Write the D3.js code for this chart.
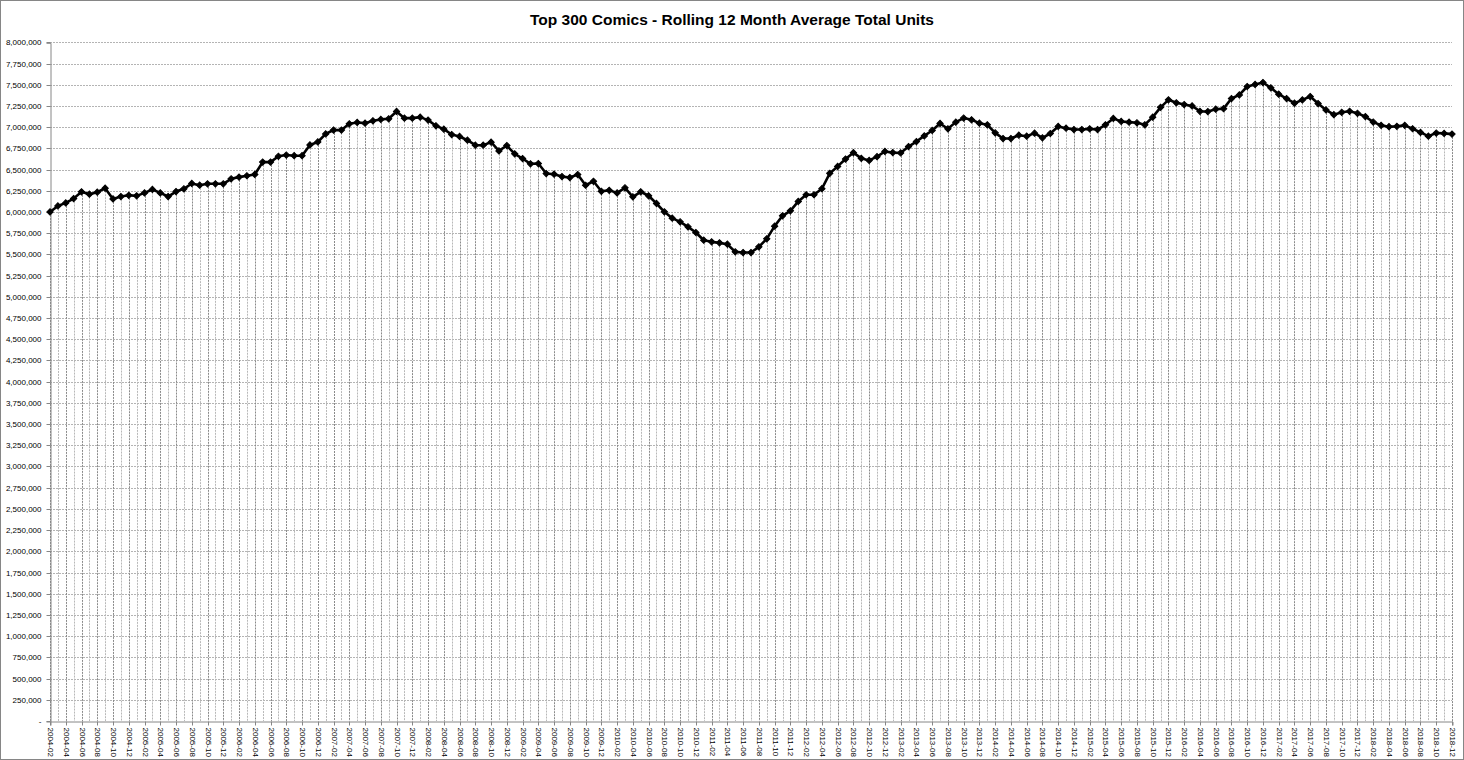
<!DOCTYPE html>
<html>
<head>
<meta charset="utf-8">
<script src="https://cdn.jsdelivr.net/npm/d3@7"></script>
<style>
  html, body { margin: 0; padding: 0; background: #fff; }
  svg { display: block; }
  text { font-family: "Liberation Sans", Arial, sans-serif; }
</style>
</head>
<body>
<svg id="chart" width="1464" height="760"></svg>
<script>
const chartTitle = "Top 300 Comics - Rolling 12 Month Average Total Units";
const firstMonth = "2004-02";
const lastMonth = "2018-12";
const yTickValues = d3.range(0, 8000001, 250000);

const units = [
  6000000, 6071000, 6107000, 6158000, 6237000, 6209000, 6233000, 6280000, 6154000, 6182000,
  6197000, 6190000, 6225000, 6265000, 6225000, 6182000, 6241000, 6273000, 6336000, 6316000,
  6332000, 6332000, 6332000, 6391000, 6411000, 6427000, 6442000, 6588000, 6588000, 6656000,
  6671000, 6663000, 6663000, 6790000, 6825000, 6920000, 6966000, 6965000, 7039000, 7055000,
  7047000, 7075000, 7091000, 7098000, 7185000, 7106000, 7106000, 7118000, 7083000, 7016000,
  6976000, 6913000, 6890000, 6846000, 6787000, 6787000, 6823000, 6720000, 6783000, 6685000,
  6630000, 6567000, 6571000, 6453000, 6445000, 6417000, 6406000, 6441000, 6315000, 6362000,
  6244000, 6255000, 6225000, 6285000, 6179000, 6238000, 6191000, 6100000, 6002000, 5927000,
  5884000, 5825000, 5758000, 5667000, 5648000, 5636000, 5620000, 5530000, 5522000, 5522000,
  5589000, 5683000, 5833000, 5955000, 6014000, 6124000, 6203000, 6203000, 6274000, 6455000,
  6537000, 6624000, 6699000, 6632000, 6608000, 6652000, 6713000, 6700000, 6696000, 6771000,
  6830000, 6897000, 6961000, 7043000, 6980000, 7059000, 7107000, 7087000, 7047000, 7028000,
  6933000, 6866000, 6866000, 6905000, 6893000, 6929000, 6874000, 6925000, 7008000, 6988000,
  6972000, 6972000, 6980000, 6972000, 7028000, 7103000, 7067000, 7059000, 7051000, 7028000,
  7118000, 7233000, 7322000, 7287000, 7266000, 7250000, 7187000, 7183000, 7211000, 7218000,
  7337000, 7380000, 7479000, 7503000, 7526000, 7463000, 7388000, 7337000, 7282000, 7321000,
  7361000, 7278000, 7203000, 7147000, 7175000, 7187000, 7163000, 7124000, 7060000, 7021000,
  7005000, 7009000, 7021000, 6981000, 6938000, 6894000, 6930000, 6926000, 6918000
];

// month categories 2004-02 .. 2018-12
const months = [];
{
  let [y, m] = firstMonth.split("-").map(Number);
  const [ey, em] = lastMonth.split("-").map(Number);
  while (y < ey || (y === ey && m <= em)) {
    months.push(y + "-" + String(m).padStart(2, "0"));
    m++; if (m > 12) { m = 1; y++; }
  }
}
const xTickLabels = months.filter((d, i) => i % 2 === 0);

const data = months.map((m, i) => ({ month: m, value: units[i], idx: i }));

const W = 1464, H = 760;
const plot = { left: 50, right: 1452, top: 42.3, bottom: 721 };
const svg = d3.select("#chart");

// outer border
svg.append("rect").attr("x", 0.5).attr("y", 0.5).attr("width", W - 1).attr("height", H - 1)
  .attr("fill", "#fff").attr("stroke", "#868686").attr("stroke-width", 1);

const x = d3.scalePoint().domain(months).range([plot.left, plot.right]).padding(0);
const y = d3.scaleLinear().domain([0, 8000000]).range([plot.bottom, plot.top]);

// horizontal gridlines
svg.append("g").selectAll("line").data(yTickValues.filter(v => v > 0)).join("line")
  .attr("x1", plot.left).attr("x2", plot.right)
  .attr("y1", d => Math.round(y(d)) + 0.5).attr("y2", d => Math.round(y(d)) + 0.5)
  .attr("stroke", "#b4b4b4").attr("stroke-width", 1).attr("stroke-dasharray", "2,1");

// drop lines
svg.append("g").selectAll("line").data(data).join("line")
  .attr("x1", d => Math.round(x(d.month)) + 0.5).attr("x2", d => Math.round(x(d.month)) + 0.5)
  .attr("y1", d => y(d.value)).attr("y2", plot.bottom)
  .attr("stroke", d => d.idx % 2 === 0 ? "#8a8a8a" : "#b8b8b8")
  .attr("stroke-width", 1).attr("stroke-dasharray", "2,1");

// y axis
const yAxis = d3.axisLeft(y).tickValues(yTickValues).tickSize(4).tickPadding(5)
  .tickFormat(d => d === 0 ? "-" : d3.format(",")(d));
const gy = svg.append("g").attr("transform", `translate(${plot.left + 0.5},0.5)`).call(yAxis);
gy.select(".domain").attr("stroke", "#868686");
gy.selectAll(".tick line").attr("stroke", "#868686");
gy.selectAll(".tick text").attr("font-size", 8).attr("fill", "#000")
  .attr("font-family", "'Liberation Sans', Arial, sans-serif");
gy.selectAll(".tick").attr("transform", d => `translate(0,${Math.round(y(d))})`);

// x axis
const xAxis = d3.axisBottom(x).tickValues(xTickLabels).tickSize(4).tickPadding(3);
const gx = svg.append("g").attr("transform", `translate(0.5,${plot.bottom + 0.5})`).call(xAxis);
gx.select(".domain").attr("stroke", "#868686");
gx.selectAll(".tick line").attr("stroke", "#868686");
gx.selectAll(".tick").attr("transform", d => `translate(${Math.round(x(d))},0)`);
gx.selectAll(".tick text")
  .attr("font-size", 8).attr("fill", "#000")
  .attr("font-family", "'Liberation Sans', Arial, sans-serif")
  .attr("transform", "rotate(90)")
  .attr("text-anchor", "start")
  .attr("x", 6).attr("y", 0).attr("dy", "0.35em");

// line
const line = d3.line().x(d => x(d.month)).y(d => y(d.value));
svg.append("path").datum(data).attr("d", line)
  .attr("fill", "none").attr("stroke", "#000").attr("stroke-width", 2.6)
  .attr("stroke-linejoin", "round");

// diamond markers
const diamond = d3.symbol().type(d3.symbolSquare).size(20);
svg.append("g").selectAll("path").data(data).join("path")
  .attr("d", diamond)
  .attr("transform", d => `translate(${x(d.month)},${y(d.value)}) rotate(45)`)
  .attr("fill", "#000").attr("stroke", "#000").attr("stroke-width", 1);

// title
svg.append("text").attr("x", 732).attr("y", 25).attr("text-anchor", "middle")
  .attr("font-size", 15.5).attr("font-weight", "bold").attr("fill", "#000")
  .text(chartTitle);
</script>
</body>
</html>
